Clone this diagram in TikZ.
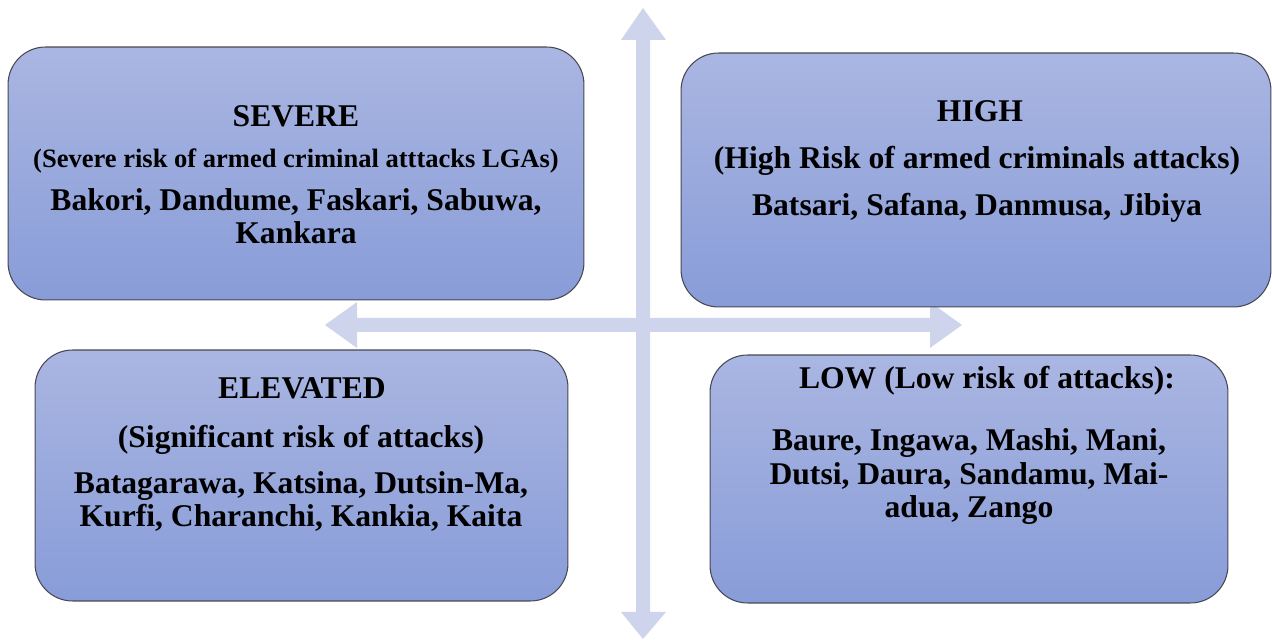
\documentclass[tikz,border=0pt]{standalone}
\usepackage{fontspec}
\setmainfont{Liberation Serif}
\usetikzlibrary{positioning}
\definecolor{boxtop}{RGB}{170,182,226}
\definecolor{boxbottom}{RGB}{136,156,216}
\definecolor{boxline}{RGB}{72,72,84}
\definecolor{axisfill}{RGB}{206,212,236}
\tikzset{
  riskbox/.style = {draw = boxline, line width = .6pt, rounded corners = .75cm,
    top color = boxtop, bottom color = boxbottom, inner sep = 0pt},
  bigtext/.style = {font = \fontsize{18}{19.3}\selectfont\bfseries, align = center, anchor = base},
  smalltext/.style = {font = \fontsize{15.1}{16}\selectfont\bfseries, align = center, anchor = base}
}
\begin{document}
\begin{tikzpicture}[x = .02cm, y = -.02cm]
      \useasboundingbox (0,0) rectangle (1272,641);
      % axes
      \fill [axisfill] (636,40) -- (621,40) -- (643,8) -- (666,40) -- (650,40)
        -- (650,612) -- (666,612) -- (643,639) -- (621,612) -- (636,612) -- cycle;
      \fill [axisfill] (357,318) -- (357,302) -- (325,325) -- (357,348) -- (357,332)
        -- (930,332) -- (930,348) -- (962,325) -- (930,302) -- (930,318) -- cycle;
      % quadrants
      \node [riskbox, minimum width = 11.52cm, minimum height = 5.06cm] (severe) at (296,173.5) {};
      \node [riskbox, minimum width = 11.8cm, minimum height = 5.08cm] (high) at (976,180) {};
      \node [riskbox, minimum width = 10.66cm, minimum height = 5.02cm] (elevated) at (301.5,475.5) {};
      \node [riskbox, minimum width = 10.36cm, minimum height = 4.96cm] (low) at (969,479) {};
      % texts (multi-line nodes sit on their last line)
      \node [bigtext] (severetitle) at (296,127) {SEVERE};
      \node [smalltext] (severesub) at (296,168) {(Severe risk of armed criminal atttacks LGAs)};
      \node [bigtext] (severelist) at (296,244) {Bakori, Dandume, Faskari, Sabuwa,\\ Kankara};
      \node [bigtext] (hightitle) at (980,122) {HIGH};
      \node [bigtext] (highsub) at (977,169) {(High Risk of armed criminals attacks)};
      \node [bigtext] (highlist) at (977,216) {Batsari, Safana, Danmusa, Jibiya};
      \node [bigtext] (elevatedtitle) at (302,399) {ELEVATED};
      \node [bigtext] (elevatedsub) at (301,448) {(Significant risk of attacks)};
      \node [bigtext] (elevatedlist) at (301,527) {Batagarawa, Katsina, Dutsin-Ma,\\ Kurfi, Charanchi, Kankia, Kaita};
      \node [bigtext] (lowtitle) at (987,389) {LOW (Low risk of attacks):};
      \node [bigtext] (lowlist) at (969,518) {Baure, Ingawa, Mashi, Mani,\\ Dutsi, Daura, Sandamu, Mai-\\ adua, Zango};
    \end{tikzpicture}
\end{document}
